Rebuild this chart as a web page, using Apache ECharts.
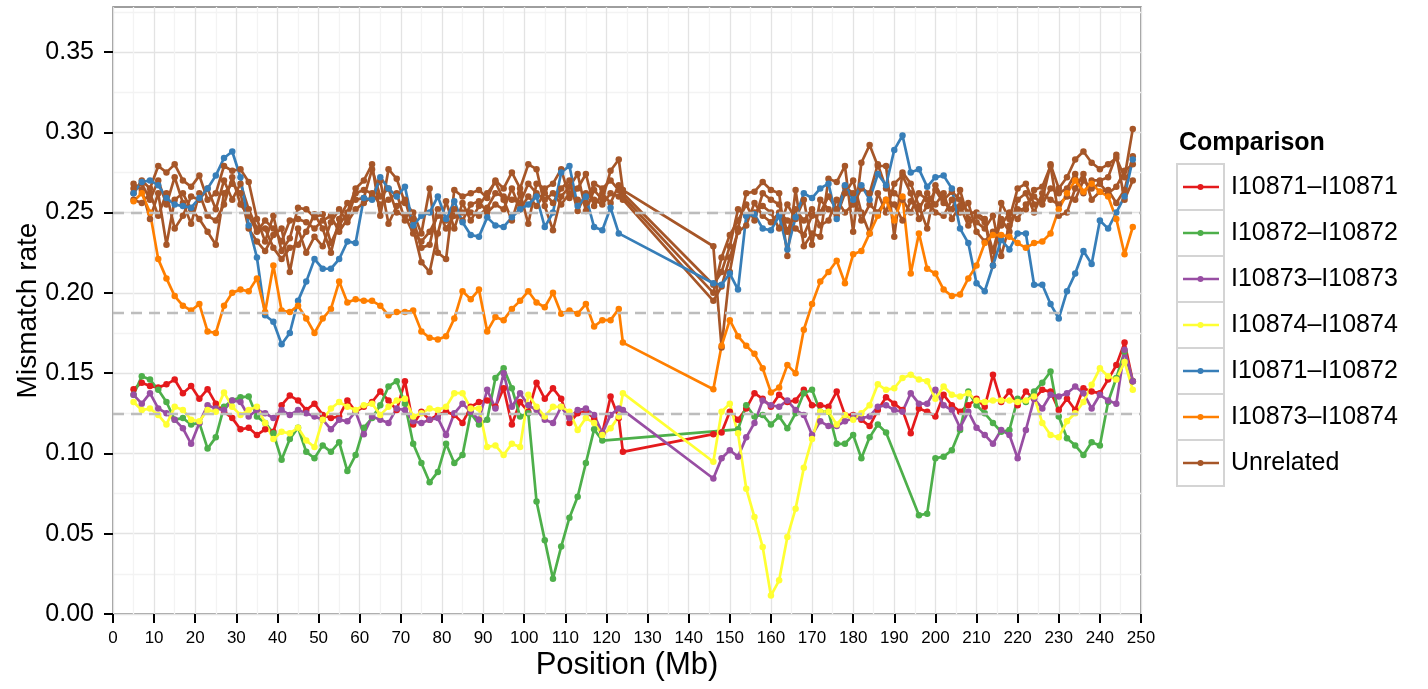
<!DOCTYPE html>
<html>
<head>
<meta charset="utf-8">
<script src="https://cdn.jsdelivr.net/npm/echarts@6/dist/echarts.min.js"></script>
<style>
  html, body { margin: 0; padding: 0; background: #ffffff; }
  #chart { width: 1428px; height: 689px; }
</style>
</head>
<body>
<div id="chart"></div>
<script>
// Window centres along the chromosome (Mb)
const positions = [
  5, 7, 9, 11, 13, 15, 17, 19, 21, 23,
  25, 27, 29, 31, 33, 35, 37, 39, 41, 43,
  45, 47, 49, 51, 53, 55, 57, 59, 61, 63,
  65, 67, 69, 71, 73, 75, 77, 79, 81, 83,
  85, 87, 89, 91, 93, 95, 97, 99, 101, 103,
  105, 107, 109, 111, 113, 115, 117, 119, 121, 123,
  124,
  146, 148, 150, 152, 154, 156, 158, 160, 162, 164,
  166, 168, 170, 172, 174, 176, 178, 180, 182, 184,
  186, 188, 190, 192, 194, 196, 198, 200, 202, 204,
  206, 208, 210, 212, 214, 216, 218, 220, 222, 224,
  226, 228, 230, 232, 234, 236, 238, 240, 242, 244,
  246, 248
];

// Mismatch rate per window; null = no window in that comparison
const r10871 = [
  0.140, 0.144, 0.142, 0.141, 0.143, 0.146, 0.1375, 0.142, 0.134, 0.140,
  0.131, 0.126, 0.122, 0.115, 0.116, 0.1115, 0.115, 0.1135, 0.130, 0.136,
  0.133, 0.127, 0.131, 0.124, 0.122, 0.123, 0.133, 0.126, 0.129, 0.132,
  0.1385, 0.133, 0.127, 0.145, 0.118, 0.126, 0.121, 0.124, 0.126, 0.124,
  0.119, 0.129, 0.132, 0.133, 0.129, 0.1406, 0.118, 0.132, 0.126, 0.144,
  0.134, 0.1406, 0.134, 0.119, 0.125, 0.126, 0.122, 0.1125, 0.1354, 0.122,
  0.101,
  0.112, 0.113, 0.126, 0.121, 0.128, 0.1375, 0.134, 0.129, 0.1365, 0.132,
  0.133, 0.1396, 0.130, 0.130, 0.129, 0.1385, 0.124, 0.124, 0.121, 0.117,
  0.127, 0.135, 0.131, 0.127, 0.1125, 0.128, 0.126, 0.123, 0.1365, 0.130,
  0.126, 0.130, 0.134, 0.129, 0.149, 0.132, 0.1385, 0.130, 0.1385, 0.134,
  0.1396, 0.1385, 0.127, 0.134, 0.127, 0.1406, 0.1385, 0.1375, 0.146, 0.155,
  0.169, 0.145
];

const r10872 = [
  0.1365, 0.148, 0.146, 0.1396, 0.132, 0.121, 0.122, 0.118, 0.119, 0.103,
  0.110, 0.129, 0.133, 0.135, 0.1354, 0.123, 0.119, 0.1125, 0.096, 0.109,
  0.116, 0.101, 0.097, 0.105, 0.101, 0.107, 0.089, 0.099, 0.116, 0.122,
  0.130, 0.1417, 0.145, 0.131, 0.106, 0.094, 0.082, 0.0885, 0.106, 0.094,
  0.099, 0.125, 0.118, 0.121, 0.147, 0.153, 0.1406, 0.123, 0.125, 0.070,
  0.046, 0.022, 0.042, 0.060, 0.073, 0.094, 0.115, 0.108, null, null,
  null,
  null, null, null, 0.115, 0.130, 0.123, 0.124, 0.118, 0.123, 0.1156,
  0.125, 0.1375, 0.1396, 0.126, 0.126, 0.106, 0.106, 0.1115, 0.097, 0.110,
  0.118, 0.113, null, null, null, 0.0615, 0.0625, 0.097, 0.098, 0.102,
  0.1146, 0.1385, 0.130, 0.125, 0.119, 0.1135, 0.1146, 0.134, 0.132, 0.1385,
  0.144, 0.151, 0.123, 0.1094, 0.105, 0.099, 0.107, 0.105, 0.132, 0.147,
  0.1635, 0.145
];

const r10873 = [
  0.1365, 0.131, 0.1375, 0.128, 0.125, 0.121, 0.1156, 0.106, 0.119, 0.130,
  0.128, 0.127, 0.133, 0.132, 0.123, 0.127, 0.125, 0.122, 0.127, 0.124,
  0.127, 0.125, 0.123, 0.121, 0.115, 0.121, 0.120, 0.126, 0.112, 0.123,
  0.121, 0.119, 0.128, 0.127, 0.120, 0.119, 0.121, 0.122, 0.1115, 0.125,
  0.131, 0.126, 0.121, 0.1396, 0.128, 0.150, 0.129, 0.1375, 0.130, 0.127,
  0.121, 0.119, 0.129, 0.122, 0.127, 0.128, 0.124, 0.1125, 0.124, 0.128,
  0.127,
  0.0844, 0.097, 0.102, 0.098, 0.110, 0.119, 0.133, 0.130, 0.129, 0.133,
  0.127, 0.124, 0.1115, 0.120, 0.117, 0.117, 0.120, 0.122, 0.122, 0.123,
  0.129, 0.130, 0.127, 0.126, 0.1375, 0.131, 0.131, 0.1396, 0.130, 0.127,
  0.116, 0.126, 0.116, 0.1115, 0.106, 0.1146, 0.1115, 0.097, 0.1146, 0.134,
  0.128, 0.1365, 0.1354, 0.1375, 0.1417, 0.1375, 0.128, 0.1365, 0.133, 0.131,
  0.1646, 0.145
];

const r10874 = [
  0.132, 0.127, 0.128, 0.124, 0.118, 0.129, 0.127, 0.121, 0.120, 0.127,
  0.126, 0.138, 0.129, 0.124, 0.127, 0.129, 0.119, 0.109, 0.1135, 0.1125,
  0.116, 0.108, 0.104, 0.121, 0.128, 0.132, 0.129, 0.127, 0.130, 0.131,
  0.124, 0.129, 0.133, 0.134, 0.123, 0.125, 0.128, 0.127, 0.129, 0.1375,
  0.1375, 0.128, 0.128, 0.104, 0.105, 0.099, 0.106, 0.104, 0.1365, 0.129,
  0.123, 0.129, 0.129, 0.126, 0.1146, 0.122, 0.119, 0.1115, 0.1156, 0.123,
  0.1375,
  0.0948, 0.126, 0.131, 0.1125, 0.078, 0.0604, 0.0417, 0.0115, 0.021, 0.048,
  0.0656, 0.091, 0.109, 0.126, 0.126, 0.118, 0.124, 0.121, 0.125, 0.130,
  0.143, 0.1396, 0.1406, 0.147, 0.149, 0.146, 0.145, 0.134, 0.1417, 0.1365,
  0.1354, 0.1375, 0.133, 0.132, 0.133, 0.133, 0.133, 0.132, 0.133, 0.1354,
  0.119, 0.1115, 0.110, 0.120, 0.125, 0.132, 0.1427, 0.153, 0.148, 0.146,
  0.157, 0.1396
];

const r10871_10872 = [
  0.262, 0.269, 0.270, 0.267, 0.259, 0.255, 0.254, 0.253, 0.259, 0.265,
  0.273, 0.284, 0.288, 0.272, 0.242, 0.222, 0.186, 0.182, 0.168, 0.175,
  0.195, 0.207, 0.221, 0.215, 0.215, 0.221, 0.232, 0.231, 0.259, 0.258,
  0.272, 0.265, 0.260, 0.266, 0.242, 0.248, 0.250, 0.260, 0.246, 0.257,
  0.244, 0.236, 0.235, 0.247, 0.242, 0.241, 0.247, 0.252, 0.255, 0.260,
  0.241, 0.250, 0.275, 0.279, 0.254, 0.260, 0.241, 0.239, 0.253, 0.237,
  null,
  0.206, 0.205, 0.212, 0.202, 0.248, 0.249, 0.240, 0.239, 0.248, 0.227,
  0.247, 0.262, 0.259, 0.265, 0.268, 0.246, 0.267, 0.258, 0.267, 0.258,
  0.274, 0.267, 0.289, 0.298, 0.275, 0.277, 0.266, 0.272, 0.273, 0.265,
  0.240, 0.231, 0.206, 0.201, 0.217, 0.233, 0.227, 0.237, 0.237, 0.205,
  0.205, 0.193, 0.184, 0.201, 0.212, 0.226, 0.218, 0.245, 0.240, 0.250,
  0.260, 0.283
];

const r10873_10874 = [
  0.257, 0.262, 0.250, 0.221, 0.209, 0.198, 0.192, 0.189, 0.193, 0.176,
  0.175, 0.192, 0.200, 0.202, 0.201, 0.209, 0.188, 0.217, 0.189, 0.188,
  0.192, 0.184, 0.175, 0.184, 0.190, 0.207, 0.194, 0.196, 0.195, 0.195,
  0.192, 0.186, 0.188, 0.188, 0.189, 0.176, 0.172, 0.171, 0.173, 0.184,
  0.201, 0.196, 0.202, 0.176, 0.185, 0.183, 0.190, 0.195, 0.201, 0.194,
  0.191, 0.200, 0.187, 0.189, 0.187, 0.193, 0.179, 0.183, 0.183, 0.190,
  0.169,
  0.140, 0.167, 0.183, 0.173, 0.167, 0.162, 0.153, 0.138, 0.141, 0.155,
  0.150, 0.177, 0.193, 0.207, 0.213, 0.220, 0.206, 0.224, 0.226, 0.237,
  0.248, 0.258, 0.245, 0.260, 0.212, 0.237, 0.215, 0.212, 0.202, 0.198,
  0.199, 0.209, 0.217, 0.231, 0.236, 0.236, 0.235, 0.231, 0.228, 0.231,
  0.232, 0.237, 0.252, 0.262, 0.270, 0.263, 0.268, 0.263, 0.260, 0.246,
  0.224, 0.241
];

// Unrelated pairs, all drawn in one colour
const unrelatedA = [
  0.262, 0.270, 0.265, 0.279, 0.275, 0.280, 0.270, 0.266, 0.273, 0.258,
  0.262, 0.279, 0.276, 0.277, 0.269, 0.246, 0.232, 0.248, 0.226, 0.234,
  0.253, 0.252, 0.247, 0.249, 0.231, 0.242, 0.250, 0.265, 0.270, 0.280,
  0.248, 0.277, 0.271, 0.256, 0.250, 0.237, 0.265, 0.225, 0.221, 0.264,
  0.260, 0.262, 0.264, 0.259, 0.270, 0.265, 0.275, 0.265, 0.280, 0.277,
  0.254, 0.239, 0.260, 0.266, 0.274, 0.251, 0.264, 0.258, 0.276, 0.283,
  0.264,
  0.229, 0.166, 0.213, 0.240, 0.262, 0.263, 0.269, 0.264, 0.262, 0.223,
  0.264, 0.229, 0.237, 0.235, 0.271, 0.269, 0.279, 0.238, 0.281, 0.292,
  0.279, 0.279, 0.235, 0.275, 0.268, 0.254, 0.240, 0.267, 0.258, 0.263,
  0.258, 0.250, 0.250, 0.246, 0.217, 0.256, 0.246, 0.265, 0.268, 0.255,
  0.258, 0.280, 0.265, 0.272, 0.283, 0.288, 0.281, 0.277, 0.280, 0.284,
  0.272, 0.302
];

const unrelatedB = [
  0.268, 0.264, 0.246, 0.262, 0.230, 0.258, 0.262, 0.252, 0.246, 0.238,
  0.230, 0.262, 0.268, 0.262, 0.240, 0.232, 0.226, 0.236, 0.240, 0.213,
  0.240, 0.225, 0.235, 0.229, 0.244, 0.252, 0.244, 0.252, 0.256, 0.260,
  0.270, 0.243, 0.254, 0.258, 0.240, 0.219, 0.213, 0.237, 0.257, 0.240,
  0.256, 0.245, 0.254, 0.262, 0.269, 0.258, 0.245, 0.262, 0.243, 0.268,
  0.265, 0.268, 0.277, 0.259, 0.265, 0.274, 0.254, 0.262, 0.256, 0.267,
  0.262,
  0.205, 0.213, 0.229, 0.252, 0.248, 0.250, 0.254, 0.250, 0.240, 0.255,
  0.246, 0.258, 0.230, 0.258, 0.252, 0.248, 0.262, 0.270, 0.250, 0.237,
  0.262, 0.250, 0.268, 0.273, 0.262, 0.246, 0.254, 0.264, 0.256, 0.252,
  0.264, 0.246, 0.244, 0.240, 0.248, 0.223, 0.242, 0.252, 0.252, 0.264,
  0.266, 0.279, 0.248, 0.250, 0.265, 0.274, 0.258, 0.263, 0.264, 0.256,
  0.264, 0.285
];

const unrelatedC = [
  0.258, 0.256, 0.262, 0.248, 0.262, 0.240, 0.248, 0.260, 0.258, 0.265,
  0.252, 0.270, 0.258, 0.268, 0.252, 0.240, 0.240, 0.228, 0.221, 0.228,
  0.230, 0.238, 0.249, 0.240, 0.225, 0.246, 0.256, 0.258, 0.259, 0.277,
  0.260, 0.265, 0.250, 0.248, 0.237, 0.232, 0.238, 0.248, 0.245, 0.252,
  0.245, 0.255, 0.257, 0.250, 0.255, 0.252, 0.265, 0.252, 0.260, 0.254,
  0.262, 0.256, 0.265, 0.270, 0.251, 0.262, 0.258, 0.255, 0.262, 0.260,
  0.260,
  0.200, 0.222, 0.236, 0.245, 0.255, 0.245, 0.262, 0.258, 0.255, 0.238,
  0.252, 0.245, 0.252, 0.242, 0.245, 0.258, 0.250, 0.255, 0.265, 0.262,
  0.280, 0.265, 0.262, 0.258, 0.250, 0.262, 0.258, 0.250, 0.248, 0.258,
  0.250, 0.256, 0.238, 0.232, 0.238, 0.242, 0.250, 0.246, 0.255, 0.260,
  0.255, 0.265, 0.262, 0.265, 0.274, 0.262, 0.270, 0.270, 0.272, 0.286,
  0.258, 0.270
];

const unrelatedD = [
  0.265, 0.268, 0.258, 0.270, 0.255, 0.272, 0.256, 0.243, 0.262, 0.248,
  0.245, 0.255, 0.272, 0.255, 0.248, 0.238, 0.245, 0.240, 0.232, 0.245,
  0.246, 0.244, 0.240, 0.245, 0.248, 0.238, 0.246, 0.262, 0.264, 0.262,
  0.255, 0.258, 0.262, 0.245, 0.246, 0.228, 0.230, 0.252, 0.240, 0.248,
  0.250, 0.250, 0.248, 0.253, 0.262, 0.260, 0.258, 0.256, 0.268, 0.262,
  0.258, 0.262, 0.255, 0.262, 0.258, 0.256, 0.268, 0.265, 0.270, 0.264,
  0.258,
  0.195, 0.204, 0.222, 0.238, 0.242, 0.256, 0.248, 0.244, 0.250, 0.245,
  0.240, 0.236, 0.248, 0.250, 0.260, 0.252, 0.266, 0.262, 0.245, 0.255,
  0.250, 0.258, 0.255, 0.245, 0.257, 0.252, 0.262, 0.255, 0.262, 0.246,
  0.254, 0.242, 0.248, 0.244, 0.226, 0.246, 0.238, 0.258, 0.262, 0.250,
  0.262, 0.258, 0.255, 0.260, 0.258, 0.270, 0.265, 0.268, 0.262, 0.266,
  0.276, 0.280
];

// Expected rates shown as dashed guides
const guideLevels = [0.25, 0.1875, 0.125];

// Axis ticks
const xTicks = [0, 10, 20, 30, 40, 50, 60, 70, 80, 90, 100, 110, 120, 130, 140, 150, 160, 170, 180, 190, 200, 210, 220, 230, 240, 250];
const yTicks = [0, 0.05, 0.10, 0.15, 0.20, 0.25, 0.30, 0.35];

const comparisonNames = ['I10871–I10871', 'I10872–I10872', 'I10873–I10873', 'I10874–I10874', 'I10871–I10872', 'I10873–I10874', 'Unrelated'];
const comparisonColors = ['#E41A1C', '#4DAF4A', '#984EA3', '#FFFF33', '#377EB8', '#FF7F00', '#A65628'];

const FONT = '"Liberation Sans", Arial, Helvetica, sans-serif';

function toPoints(values) {
  return positions.map((x, i) => [x, values[i] === null ? '-' : values[i]]);
}

function lineSeries(name, values, color) {
  return {
    type: 'line',
    name: name,
    data: toPoints(values),
    symbol: 'circle',
    symbolSize: 6.5,
    showSymbol: true,
    showAllSymbol: true,
    connectNulls: true,
    z: 2,
    lineStyle: { width: 2.7, color: color },
    itemStyle: { color: color, borderWidth: 0 },
    emphasis: { disabled: true },
    animation: false
  };
}

const brown = comparisonColors[6];
const series = [
  // dashed guide lines drawn under the data
  {
    type: 'line',
    name: 'guides',
    data: [],
    z: 1,
    silent: true,
    markLine: {
      silent: true,
      precision: 4,
      symbol: ['none', 'none'],
      label: { show: false },
      lineStyle: { type: [11, 7], color: '#bdbdbd', width: 2.4 },
      emphasis: { disabled: true },
      data: guideLevels.map(v => ({ yAxis: v }))
    }
  },
  lineSeries('Unrelated', unrelatedA, brown),
  lineSeries('Unrelated', unrelatedB, brown),
  lineSeries('Unrelated', unrelatedC, brown),
  lineSeries('Unrelated', unrelatedD, brown),
  lineSeries(comparisonNames[0], r10871, comparisonColors[0]),
  lineSeries(comparisonNames[1], r10872, comparisonColors[1]),
  lineSeries(comparisonNames[2], r10873, comparisonColors[2]),
  lineSeries(comparisonNames[3], r10874, comparisonColors[3]),
  lineSeries(comparisonNames[4], r10871_10872, comparisonColors[4]),
  lineSeries(comparisonNames[5], r10873_10874, comparisonColors[5])
];

// Legend drawn as keyed boxes to the right of the panel
const legendX = 1177, legendTop = 164, keySize = 46, keyWidth = 47;
const legendGraphics = [
  {
    type: 'text',
    x: 1179, y: 143,
    style: { text: 'Comparison', fontFamily: FONT, fontSize: 25, fontWeight: 'bold', fill: '#000', verticalAlign: 'middle' }
  }
];
comparisonNames.forEach((name, i) => {
  const cy = legendTop + keySize * i + keySize / 2;
  legendGraphics.push(
    { type: 'rect', shape: { x: legendX, y: legendTop + keySize * i, width: keyWidth, height: keySize },
      style: { fill: '#ffffff', stroke: '#d4d4d4', lineWidth: 2 } },
    { type: 'line', shape: { x1: legendX + 6, y1: cy, x2: legendX + keyWidth - 5, y2: cy },
      style: { stroke: comparisonColors[i], lineWidth: 2.7 } },
    { type: 'circle', shape: { cx: legendX + keyWidth / 2, cy: cy, r: 3 },
      style: { fill: comparisonColors[i] } },
    { type: 'text', x: 1231, y: cy,
      style: { text: name, fontFamily: FONT, fontSize: 25, fill: '#000', verticalAlign: 'middle' } }
  );
});

const chart = echarts.init(document.getElementById('chart'), null, { renderer: 'canvas' });
chart.setOption({
  animation: false,
  backgroundColor: '#ffffff',
  textStyle: { fontFamily: FONT },
  grid: {
    left: 113, right: 287, top: 7, bottom: 75,
    show: true, borderColor: '#7f7f7f', borderWidth: 1.5, backgroundColor: '#ffffff',
    containLabel: false, outerBoundsMode: 'none'
  },
  xAxis: {
    type: 'value', min: 0, max: 250, interval: 10,
    name: 'Position (Mb)', nameLocation: 'middle', nameGap: 36, nameMoveOverlap: false,
    nameTextStyle: { fontFamily: FONT, fontSize: 31, color: '#000' },
    axisLine: { show: false },
    axisTick: { show: true, customValues: xTicks, length: 9, lineStyle: { color: '#000', width: 2 } },
    axisLabel: { customValues: xTicks, fontFamily: FONT, fontSize: 17, color: '#000', margin: 16 },
    splitLine: { show: true, lineStyle: { color: '#e3e3e3', width: 1.3 } },
    minorTick: { show: false, splitNumber: 2 },
    minorSplitLine: { show: true, lineStyle: { color: '#f3f3f3', width: 1.3 } }
  },
  yAxis: {
    type: 'value', min: 0, max: 0.378, interval: 0.05,
    name: 'Mismatch rate', nameLocation: 'middle', nameGap: 71, nameMoveOverlap: false,
    nameTextStyle: { fontFamily: FONT, fontSize: 28, color: '#000' },
    axisLine: { show: false },
    axisTick: { show: true, customValues: yTicks, length: 9, lineStyle: { color: '#000', width: 2 } },
    axisLabel: { customValues: yTicks, fontFamily: FONT, fontSize: 25, color: '#000', margin: 19,
      formatter: v => v.toFixed(2) },
    splitLine: { show: true, lineStyle: { color: '#e3e3e3', width: 1.3 } },
    minorTick: { show: false, splitNumber: 2 },
    minorSplitLine: { show: true, lineStyle: { color: '#f3f3f3', width: 1.3 } }
  },
  graphic: legendGraphics,
  series: series
});
</script>
</body>
</html>
